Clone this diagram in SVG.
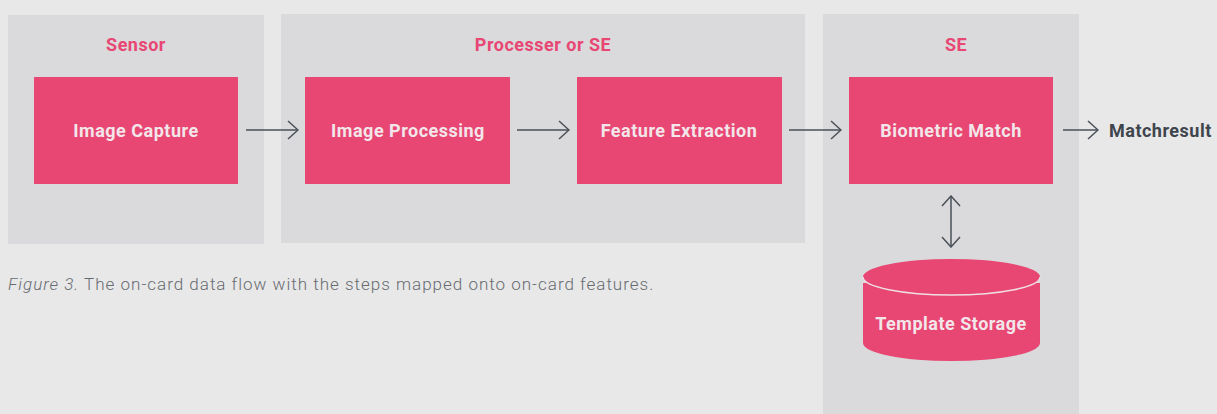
<svg xmlns="http://www.w3.org/2000/svg" width="1217" height="414" viewBox="0 0 1217 414">
  <style>
    .panel { fill: #dadadc; }
    .box { fill: #e84673; }
    .title { font-family: Roboto, "Liberation Sans", sans-serif; font-weight: bold; font-size: 18px; letter-spacing: 0.5px; fill: #e84673; text-anchor: middle; }
    .label { font-family: Roboto, "Liberation Sans", sans-serif; font-weight: bold; font-size: 18px; letter-spacing: 0.5px; fill: #f2e6ea; text-anchor: middle; }
    .out { font-family: Roboto, "Liberation Sans", sans-serif; font-weight: bold; font-size: 18px; letter-spacing: 0.5px; fill: #3e454d; }
    .caption { font-family: Roboto, "Liberation Sans", sans-serif; font-weight: 300; font-size: 17px; letter-spacing: 1px; fill: #676b70; }
    .edge { stroke: #4a5058; stroke-width: 1.5; fill: none; }
  </style>
  <defs>
    <marker id="arr" viewBox="0 0 12 20" refX="11" refY="10" markerWidth="12" markerHeight="20" markerUnits="userSpaceOnUse" orient="auto-start-reverse">
      <path d="M1 1 L11 10 L1 19" fill="none" stroke="#4a5058" stroke-width="1.5"/>
    </marker>
  </defs>

  <rect width="1217" height="414" fill="#e8e8e8"/>

  <!-- grouping panels -->
  <g id="panel-sensor">
    <rect class="panel" x="8" y="15" width="256" height="229"/>
    <text class="title" x="136" y="51">Sensor</text>
  </g>
  <g id="panel-processor">
    <rect class="panel" x="281" y="14" width="524" height="229"/>
    <text class="title" x="543" y="51">Processer or SE</text>
  </g>
  <g id="panel-se">
    <rect class="panel" x="823" y="14" width="256" height="400"/>
    <text class="title" x="956" y="51">SE</text>
  </g>

  <!-- processing steps -->
  <g id="image-capture">
    <rect class="box" x="34" y="77" width="204" height="107"/>
    <text class="label" x="136" y="137">Image Capture</text>
  </g>
  <g id="image-processing">
    <rect class="box" x="305" y="77" width="205" height="107"/>
    <text class="label" x="408" y="137">Image Processing</text>
  </g>
  <g id="feature-extraction">
    <rect class="box" x="577" y="77" width="205" height="107"/>
    <text class="label" x="679" y="137">Feature Extraction</text>
  </g>
  <g id="biometric-match">
    <rect class="box" x="849" y="77" width="204" height="107"/>
    <text class="label" x="951" y="137">Biometric Match</text>
  </g>
  <g id="template-storage">
    <path class="box" d="M863 283 L863 343 A88.5 18 0 0 0 1040 343 L1040 283 Z"/>
    <ellipse class="box" cx="951.5" cy="277" rx="88.5" ry="18"/>
    <path d="M863 277 A88.5 18 0 0 0 1040 277" fill="none" stroke="#f0dde3" stroke-width="1.5"/>
    <text class="label" x="951" y="330">Template Storage</text>
  </g>
  <g id="matchresult">
    <text class="out" x="1109" y="137">Matchresult</text>
  </g>

  <!-- connectors -->
  <g id="connectors">
    <line class="edge" x1="246" y1="130" x2="298" y2="130" marker-end="url(#arr)"/>
    <line class="edge" x1="517" y1="130" x2="569" y2="130" marker-end="url(#arr)"/>
    <line class="edge" x1="789" y1="130" x2="841" y2="130" marker-end="url(#arr)"/>
    <line class="edge" x1="1063" y1="130" x2="1098" y2="130" marker-end="url(#arr)"/>
    <line class="edge" x1="951" y1="196" x2="951" y2="247" marker-start="url(#arr)" marker-end="url(#arr)"/>
  </g>

  <text class="caption" x="8" y="290"><tspan font-style="italic">Figure 3.</tspan> The on-card data flow with the steps mapped onto on-card features.</text>
</svg>
